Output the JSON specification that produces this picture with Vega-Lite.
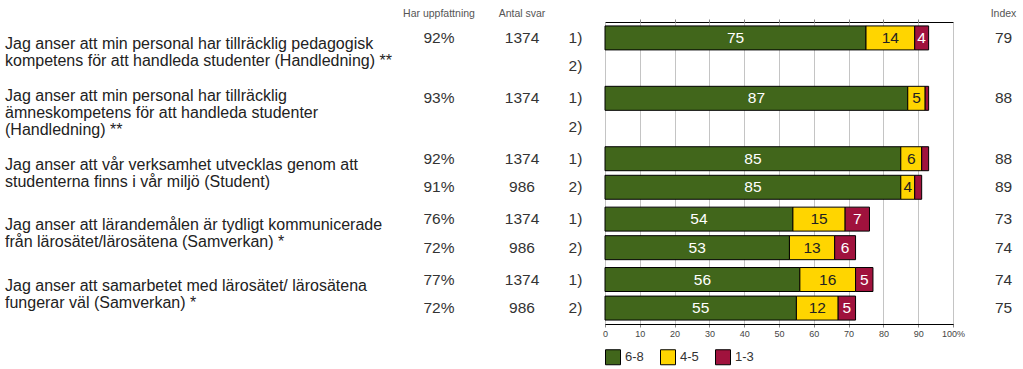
{
  "$schema": "https://vega.github.io/schema/vega-lite/v6.json",
  "background": "white",
  "padding": {"left": 5, "top": 8, "right": 0, "bottom": 0},
  "config": {
    "font": "Liberation Sans",
    "view": {"stroke": null},
    "title": {"fontSize": 10.5, "fontWeight": "normal", "color": "#555555", "offset": 3, "anchor": "middle"}
  },
  "datasets": {
    "questions": [
      {"q": "Q1", "text": ["Jag anser att min personal har tillräcklig pedagogisk", "kompetens för att handleda studenter (Handledning) **"]},
      {"q": "Q2", "text": ["Jag anser att min personal har tillräcklig", "ämneskompetens för att handleda studenter", "(Handledning) **"]},
      {"q": "Q3", "text": ["Jag anser att vår verksamhet utvecklas genom att", "studenterna finns i vår miljö (Student)"]},
      {"q": "Q4", "text": ["Jag anser att lärandemålen är tydligt  kommunicerade", "från lärosätet/lärosätena (Samverkan) *"]},
      {"q": "Q5", "text": ["Jag anser att samarbetet med lärosätet/ lärosätena", "fungerar väl (Samverkan) *"]}
    ],
    "rows": [
      {"q": "Q1", "sub": "1)", "har": 0.92, "antal": 1374, "index": 79},
      {"q": "Q1", "sub": "2)", "har": null, "antal": null, "index": null},
      {"q": "Q2", "sub": "1)", "har": 0.93, "antal": 1374, "index": 88},
      {"q": "Q2", "sub": "2)", "har": null, "antal": null, "index": null},
      {"q": "Q3", "sub": "1)", "har": 0.92, "antal": 1374, "index": 88},
      {"q": "Q3", "sub": "2)", "har": 0.91, "antal": 986, "index": 89},
      {"q": "Q4", "sub": "1)", "har": 0.76, "antal": 1374, "index": 73},
      {"q": "Q4", "sub": "2)", "har": 0.72, "antal": 986, "index": 74},
      {"q": "Q5", "sub": "1)", "har": 0.77, "antal": 1374, "index": 74},
      {"q": "Q5", "sub": "2)", "har": 0.72, "antal": 986, "index": 75}
    ],
    "bars": [
      {"q": "Q1", "sub": "1)", "cat": "6-8", "value": 75},
      {"q": "Q1", "sub": "1)", "cat": "4-5", "value": 14},
      {"q": "Q1", "sub": "1)", "cat": "1-3", "value": 4},
      {"q": "Q2", "sub": "1)", "cat": "6-8", "value": 87},
      {"q": "Q2", "sub": "1)", "cat": "4-5", "value": 5},
      {"q": "Q2", "sub": "1)", "cat": "1-3", "value": 1},
      {"q": "Q3", "sub": "1)", "cat": "6-8", "value": 85},
      {"q": "Q3", "sub": "1)", "cat": "4-5", "value": 6},
      {"q": "Q3", "sub": "1)", "cat": "1-3", "value": 2},
      {"q": "Q3", "sub": "2)", "cat": "6-8", "value": 85},
      {"q": "Q3", "sub": "2)", "cat": "4-5", "value": 4},
      {"q": "Q3", "sub": "2)", "cat": "1-3", "value": 2},
      {"q": "Q4", "sub": "1)", "cat": "6-8", "value": 54},
      {"q": "Q4", "sub": "1)", "cat": "4-5", "value": 15},
      {"q": "Q4", "sub": "1)", "cat": "1-3", "value": 7},
      {"q": "Q4", "sub": "2)", "cat": "6-8", "value": 53},
      {"q": "Q4", "sub": "2)", "cat": "4-5", "value": 13},
      {"q": "Q4", "sub": "2)", "cat": "1-3", "value": 6},
      {"q": "Q5", "sub": "1)", "cat": "6-8", "value": 56},
      {"q": "Q5", "sub": "1)", "cat": "4-5", "value": 16},
      {"q": "Q5", "sub": "1)", "cat": "1-3", "value": 5},
      {"q": "Q5", "sub": "2)", "cat": "6-8", "value": 55},
      {"q": "Q5", "sub": "2)", "cat": "4-5", "value": 12},
      {"q": "Q5", "sub": "2)", "cat": "1-3", "value": 5}
    ]
  },
  "spacing": 0,
  "bounds": "flush",
  "resolve": {"legend": {"color": "independent"}},
  "hconcat": [
    {
      "width": 375, "height": 302,
      "data": {"name": "questions"},
      "encoding": {
        "y": {"field": "q", "type": "nominal", "scale": {"domain": ["Q1", "Q2", "Q3", "Q4", "Q5"], "paddingInner": 0.13, "paddingOuter": 0.065}, "axis": null},
        "x": {"datum": 0, "type": "quantitative", "scale": {"domain": [0, 1]}, "axis": null},
        "text": {"field": "text", "type": "nominal"}
      },
      "layer": [
        {
          "transform": [{"filter": "length(datum.text) == 2"}],
          "mark": {"type": "text", "align": "left", "baseline": "middle", "fontSize": 16, "lineHeight": 17, "dy": -8, "color": "#222222"}
        },
        {
          "transform": [{"filter": "length(datum.text) == 3"}],
          "mark": {"type": "text", "align": "left", "baseline": "middle", "fontSize": 16, "lineHeight": 17, "dy": -16.5, "color": "#222222"}
        }
      ]
    },
    {
      "width": 118, "height": 302,
      "title": "Har uppfattning",
      "data": {"name": "rows"},
      "transform": [{"filter": "datum.har != null"}],
      "mark": {"type": "text", "baseline": "middle", "fontSize": 15.5, "color": "#333333"},
      "encoding": {
        "y": {"field": "q", "type": "nominal", "scale": {"domain": ["Q1", "Q2", "Q3", "Q4", "Q5"], "paddingInner": 0.13, "paddingOuter": 0.065}, "axis": null},
        "yOffset": {"field": "sub", "type": "nominal", "scale": {"domain": ["1)", "2)"], "paddingInner": 0.16, "paddingOuter": 0}},
        "text": {"field": "har", "type": "quantitative", "format": ".0%"}
      }
    },
    {
      "width": 48, "height": 302,
      "title": "Antal svar",
      "data": {"name": "rows"},
      "transform": [{"filter": "datum.antal != null"}],
      "mark": {"type": "text", "baseline": "middle", "fontSize": 15.5, "color": "#333333"},
      "encoding": {
        "y": {"field": "q", "type": "nominal", "scale": {"domain": ["Q1", "Q2", "Q3", "Q4", "Q5"], "paddingInner": 0.13, "paddingOuter": 0.065}, "axis": null},
        "yOffset": {"field": "sub", "type": "nominal", "scale": {"domain": ["1)", "2)"], "paddingInner": 0.16, "paddingOuter": 0}},
        "text": {"field": "antal", "type": "quantitative", "format": "d"}
      }
    },
    {
      "width": 59, "height": 302,
      "data": {"name": "rows"},
      "mark": {"type": "text", "baseline": "middle", "fontSize": 15.5, "color": "#333333"},
      "encoding": {
        "y": {"field": "q", "type": "nominal", "scale": {"domain": ["Q1", "Q2", "Q3", "Q4", "Q5"], "paddingInner": 0.13, "paddingOuter": 0.065}, "axis": null},
        "yOffset": {"field": "sub", "type": "nominal", "scale": {"domain": ["1)", "2)"], "paddingInner": 0.16, "paddingOuter": 0}},
        "text": {"field": "sub", "type": "nominal"}
      }
    },
    {
      "width": 348, "height": 302,
      "data": {"name": "bars"},
      "view": {"stroke": "black", "strokeWidth": 1},
      "encoding": {
        "y": {"field": "q", "type": "nominal", "scale": {"domain": ["Q1", "Q2", "Q3", "Q4", "Q5"], "paddingInner": 0.13, "paddingOuter": 0.065}, "axis": null},
        "yOffset": {"field": "sub", "type": "nominal", "scale": {"domain": ["1)", "2)"], "paddingInner": 0.16, "paddingOuter": 0}}
      },
      "layer": [
        {
          "mark": {"type": "bar", "stroke": "black", "strokeWidth": 1},
          "encoding": {
            "x": {
              "field": "value", "type": "quantitative", "stack": "zero",
              "scale": {"domain": [0, 100], "nice": false},
              "axis": {
                "orient": "bottom", "title": null,
                "values": [0, 10, 20, 30, 40, 50, 60, 70, 80, 90, 100],
                "labelExpr": "datum.value == 100 ? '100%' : datum.label",
                "grid": true, "gridColor": "#c4c4c4", "gridWidth": 1,
                "domainColor": "black", "tickColor": "#888888", "tickSize": 3,
                "labelFontSize": 9, "labelColor": "#444444", "labelPadding": 2, "labelFlush": false
              }
            },
            "color": {
              "field": "cat", "type": "nominal",
              "scale": {"domain": ["6-8", "4-5", "1-3"], "range": ["#41661b", "#ffd500", "#a0123d"]},
              "legend": {
                "title": null, "orient": "bottom", "direction": "horizontal",
                "symbolType": "square", "symbolSize": 225, "symbolStrokeColor": "black", "symbolStrokeWidth": 1, "symbolOpacity": 1,
                "labelFontSize": 13, "labelColor": "#333333", "labelOffset": 4, "columnPadding": 14, "offset": 11, "padding": 0
              }
            },
            "order": {"field": "cat", "sort": "descending"}
          }
        },
        {
          "transform": [{"filter": "datum.value >= 3"}],
          "mark": {"type": "text", "baseline": "middle", "fontSize": 15.5},
          "encoding": {
            "x": {
              "field": "value", "type": "quantitative", "stack": "zero", "bandPosition": 0.5,
              "axis": {"orient": "top", "title": null, "labels": false, "domain": false, "grid": false, "ticks": true, "tickSize": 3, "tickColor": "#888888", "values": [10, 20, 30, 40, 50, 60, 70, 80, 90]}
            },
            "detail": {"field": "cat", "type": "nominal"},
            "order": {"field": "cat", "sort": "descending"},
            "text": {"field": "value", "type": "quantitative"},
            "color": {"condition": {"test": "datum.cat === '4-5'", "value": "#222222"}, "value": "white"}
          }
        }
      ]
    },
    {
      "width": 31, "height": 302,
      "data": {"values": []},
      "mark": {"type": "text"},
      "encoding": {}
    },
    {
      "width": 39, "height": 302,
      "title": "Index",
      "data": {"name": "rows"},
      "transform": [{"filter": "datum.index != null"}],
      "mark": {"type": "text", "baseline": "middle", "fontSize": 15.5, "color": "#333333"},
      "encoding": {
        "y": {"field": "q", "type": "nominal", "scale": {"domain": ["Q1", "Q2", "Q3", "Q4", "Q5"], "paddingInner": 0.13, "paddingOuter": 0.065}, "axis": null},
        "yOffset": {"field": "sub", "type": "nominal", "scale": {"domain": ["1)", "2)"], "paddingInner": 0.16, "paddingOuter": 0}},
        "text": {"field": "index", "type": "quantitative"}
      }
    }
  ]
}
